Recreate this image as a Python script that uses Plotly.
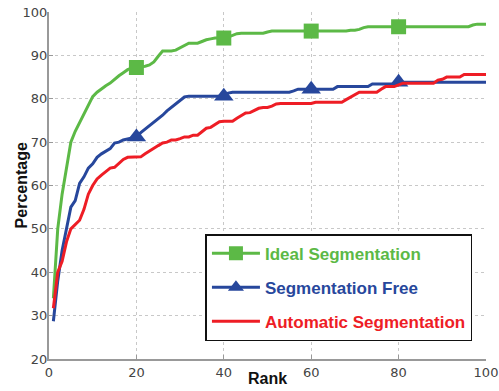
import plotly.graph_objects as go

rank = list(range(1, 101))

ideal = [34, 50, 58, 64, 70, 72.5, 74.5, 76.5, 78.5, 80.5,
         81.5, 82.3, 83, 83.6, 84.5, 85.3, 86, 86.7, 87.1, 87.2,
         87.4, 87.5, 87.8, 88.5, 89.8, 91, 91, 91, 91.2, 91.8,
         92.4, 92.8, 92.8, 92.8, 93.2, 93.6, 93.8, 94, 94, 94,
         94.2, 94.6, 95, 95.1, 95.1, 95.1, 95.1, 95.1, 95.1, 95.4,
         95.6, 95.6, 95.6, 95.6, 95.6, 95.6, 95.6, 95.6, 95.6, 95.6,
         95.6, 95.6, 95.6, 95.6, 95.6, 95.6, 95.6, 95.6, 95.8, 95.8,
         96, 96.4, 96.6, 96.6, 96.6, 96.6, 96.6, 96.6, 96.6, 96.6,
         96.6, 96.6, 96.6, 96.6, 96.6, 96.6, 96.6, 96.6, 96.6, 96.6,
         96.6, 96.6, 96.6, 96.6, 96.6, 96.6, 97, 97.2, 97.2, 97.2]

seg_free = [28.7, 38, 45, 50, 55, 56.5, 60.5, 62, 64, 65,
            66.5, 67.3, 68, 68.5, 69.8, 70, 70.5, 70.7, 71, 71.2,
            72.2, 73, 73.8, 74.6, 75.3, 76.2, 77.2, 78, 78.8, 79.6,
            80.4, 80.6, 80.6, 80.6, 80.6, 80.6, 80.6, 80.6, 80.6, 80.6,
            81.3, 81.5, 81.5, 81.5, 81.5, 81.5, 81.5, 81.5, 81.5, 81.5,
            81.5, 81.5, 81.5, 81.5, 81.5, 81.8, 82.2, 82.2, 82.2, 82.2,
            82.2, 82.2, 82.2, 82.2, 82.2, 82.8, 82.8, 82.8, 82.8, 82.8,
            82.8, 82.8, 82.8, 83.4, 83.4, 83.4, 83.4, 83.4, 83.4, 83.8,
            83.8, 83.8, 83.8, 83.8, 83.8, 83.8, 83.8, 83.8, 83.8, 83.8,
            83.8, 83.8, 83.8, 83.8, 83.8, 83.8, 83.8, 83.8, 83.8, 83.8]

automatic = [31.7, 40, 42.5, 47, 50, 51, 52, 54.5, 58, 60,
             61.5, 62.4, 63.2, 64, 64.2, 65, 66, 66.5, 66.5, 66.5,
             66.6, 67.3, 68, 68.5, 69.2, 69.8, 70, 70.5, 70.5, 70.8,
             71.2, 71.2, 71.6, 71.6, 72.5, 73.2, 73.4, 74, 74.7, 74.8,
             74.8, 74.8, 75.5, 76.2, 76.7, 76.8, 77.3, 77.8, 78, 78,
             78.3, 78.8, 78.9, 78.9, 78.9, 78.9, 78.9, 78.9, 78.9, 78.9,
             79.2, 79.2, 79.2, 79.2, 79.2, 79.2, 79.2, 79.8, 80.4, 81,
             81.5, 81.5, 81.5, 81.5, 81.5, 82.2, 82.8, 82.8, 82.8, 83.2,
             83.6, 83.6, 83.6, 83.6, 83.6, 83.6, 83.6, 83.6, 84.3, 84.5,
             85, 85, 85, 85, 85.6, 85.6, 85.6, 85.6, 85.6, 85.6]

marker_ranks = [20, 40, 60, 80]
x_ticks = [0, 20, 40, 60, 80, 100]
y_ticks = [20, 30, 40, 50, 60, 70, 80, 90, 100]

GREEN = "#5cb946"
BLUE = "#27479c"
RED = "#ee1d25"

series = [
    ("Ideal Segmentation", ideal, GREEN, "square", 15),
    ("Segmentation Free", seg_free, BLUE, "triangle-up", 17),
    ("Automatic Segmentation", automatic, RED, None, 0),
]

fig = go.Figure()
for i, (name, vals, col, sym, msize) in enumerate(series):
    fig.add_trace(go.Scatter(
        x=rank, y=vals, mode="lines", line=dict(color=col, width=3),
        showlegend=False, hoverinfo="skip"))
    if sym:
        fig.add_trace(go.Scatter(
            x=marker_ranks, y=[vals[r - 1] for r in marker_ranks], mode="markers",
            marker=dict(symbol=sym, size=msize, color=col, opacity=1, line=dict(width=0)),
            showlegend=False))
for i, (name, vals, col, sym, msize) in enumerate(series):
    fig.add_trace(go.Scatter(
        x=[None], y=[None], mode="lines+markers" if sym else "lines",
        name=f"<b><span style='color:{col}'>{name}</span></b>",
        line=dict(color=col, width=3),
        marker=dict(symbol=sym or "circle", size=14 if sym else 0, color=col, line=dict(width=0)),
        legendgroup=f"g{i}"))

fig.update_layout(
    width=499, height=391,
    margin=dict(l=49, r=13, t=12, b=32),
    paper_bgcolor="white", plot_bgcolor="white",
    font=dict(family="DejaVu Sans", size=13, color="#444"),
    legend=dict(
        x=0.358, y=0.36, xanchor="left", yanchor="top",
        bgcolor="white", bordercolor="#111", borderwidth=1.5,
        font=dict(family="Liberation Sans", size=17),
        tracegroupgap=9, itemwidth=48,
    ),
    showlegend=True,
    annotations=[
        dict(text="<b>Percentage</b>", xref="paper", yref="paper", x=-0.062, y=0.5,
             textangle=-90, showarrow=False, xanchor="center", yanchor="middle",
             font=dict(family="Liberation Sans", size=16, color="#111")),
        dict(text="<b>Rank</b>", xref="paper", yref="paper", x=0.5, y=-0.055,
             showarrow=False, xanchor="center", yanchor="middle",
             font=dict(family="Liberation Sans", size=16, color="#111")),
    ],
)
fig.update_xaxes(
    range=[0, 100], tickvals=x_ticks, showgrid=True, automargin=False,
    gridcolor="#c8c8c8", griddash="dot", gridwidth=1,
    showline=True, linecolor="#999", linewidth=2,
    ticks="inside", ticklen=4, tickcolor="#999",
    zeroline=False,
)
fig.update_yaxes(
    range=[20, 100], tickvals=y_ticks, showgrid=True, automargin=False,
    gridcolor="#c8c8c8", griddash="dot", gridwidth=1,
    showline=True, linecolor="#999", linewidth=2,
    ticks="inside", ticklen=4, tickcolor="#999",
    zeroline=False, ticklabelstandoff=-3,
)

fig.write_html("out.html")
